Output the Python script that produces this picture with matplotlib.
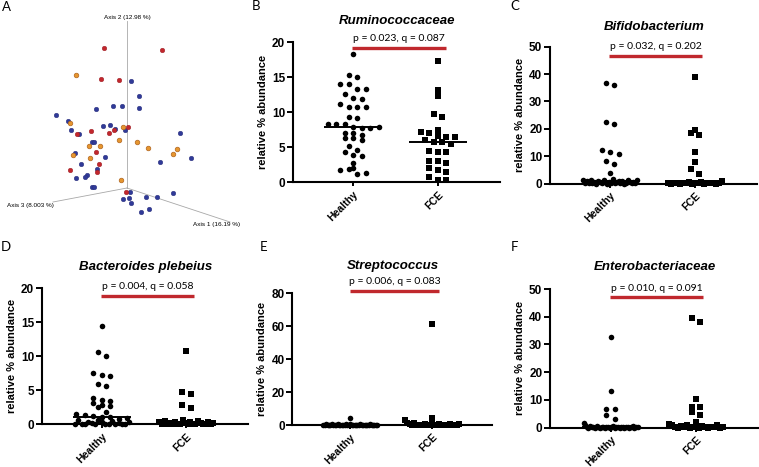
import matplotlib
matplotlib.use('Agg')
import matplotlib.pyplot as plt
import numpy as np

# figure size in pixels (dpi 100)
W, H = 759, 467

groups = ["Healthy", "FCE"]

# ---- panel A: PCoA points as projected in the 3D view (pixel space of panel A)
red_x = [104, 162, 100.7, 119.3, 90.7, 109, 114.3, 127.7, 77.3, 96.3, 98.7, 97.3, 70, 126]
red_y = [47.7, 50, 79, 80, 131, 133, 130, 126.7, 134, 152.3, 163.7, 171.7, 170.3, 192]
orange_x = [75.7, 70, 122.7, 100.3, 89, 119, 137, 147.7, 177, 173.3, 73.3, 89.7, 121.3]
orange_y = [75.3, 123.3, 127.3, 145.7, 146, 139.7, 142.3, 148.3, 149, 153.7, 154.7, 158, 180.3]
blue_x = [131, 139.3, 139.3, 96, 113.3, 122, 56.3, 68.3, 70.7, 78.7, 102.7, 110, 115, 125,
          92, 94.3, 75, 104.7, 81.3, 97, 87.3, 85.3, 76, 92.3, 93.7, 180.3, 191, 160,
          130, 123, 129.3, 146, 157.3, 173, 131, 148.7, 141.3]
blue_y = [81, 96.3, 108, 109.3, 106, 106.3, 114.7, 120.7, 130.3, 133.7, 126, 125, 129, 129.7,
          142.3, 142.3, 152.7, 157.3, 163.7, 169, 175, 176.7, 177.7, 187.3, 187.3, 133, 158, 161.7,
          192, 198.7, 198, 197.3, 197, 193.3, 203, 208.7, 212]
axis_names = ["Axis 1 (16.19 %)", "Axis 2 (12.98 %)", "Axis 3 (8.003 %)"]

# ---- panels B-F: relative % abundance
rumino_healthy = [18.3, 15.4, 15.0, 14.1, 14.0, 13.4, 13.4, 12.6, 12.1, 11.9, 11.2, 10.8, 10.7,
                  10.7, 9.3, 9.2, 8.3, 8.3, 8.3, 7.9, 7.8, 7.7, 7.0, 7.1, 6.8, 6.4, 6.4, 6.0,
                  5.2, 4.6, 4.4, 3.9, 3.8, 2.8, 2.0, 1.8, 1.9, 1.2, 1.3, 7.9]
rumino_fce = [17.3, 13.2, 12.4, 9.7, 9.4, 7.5, 7.2, 7.1, 6.6, 6.5, 6.5, 6.1, 5.8, 5.7, 5.5,
              4.5, 4.4, 4.4, 3.0, 3.0, 2.7, 2.1, 1.7, 1.5, 0.7, 0.3, 0.3]

bifido_healthy = [36.6, 36.2, 22.4, 21.9, 12.3, 11.6, 10.9, 8.4, 7.2, 4.0,
                  1.2, 0.4, 0.9, 0.1, 1.5, 0.3, 0.7, 0.0, 1.1, 0.5, 0.2, 1.3, 0.6, 0.0, 0.8,
                  0.3, 1.6, 0.1, 0.5, 0.9, 0.2, 1.0, 0.0, 0.4, 1.4, 0.6, 0.1, 0.8, 0.3, 1.2]
bifido_fce = [38.8, 19.7, 18.4, 17.8, 11.7, 7.9, 5.3, 3.6,
              0.2, 0.0, 0.4, 0.1, 0.0, 0.3, 0.1, 0.5, 0.0, 0.2, 0.1, 0.6, 0.0, 0.3, 0.1,
              0.2, 0.0, 0.4, 1.0]

plebeius_healthy = [14.5, 10.7, 10.0, 7.5, 7.3, 7.1, 6.0, 5.6, 3.8, 3.6, 3.5, 3.2, 2.9, 2.7,
                    2.5, 1.8, 1.5, 1.3, 1.2, 1.1, 1.1, 0.8, 0.0, 0.6, 0.1, 0.0, 0.4, 0.2,
                    0.0, 0.7, 0.3, 0.0, 0.1, 0.5, 0.0, 0.2, 0.9, 0.1, 0.0, 0.3]
plebeius_fce = [10.8, 4.7, 4.4, 2.8, 2.4,
                0.3, 0.0, 0.5, 0.1, 0.2, 0.0, 0.4, 0.1, 0.0, 0.6, 0.2, 0.0, 0.3, 0.1,
                0.0, 0.5, 0.2, 0.0, 0.1, 0.3, 0.0, 0.2]

strep_healthy = [4.0, 0.2, 0.0, 0.5, 0.1, 0.3, 0.0, 0.4, 0.1, 0.0, 0.2, 0.6, 0.0, 0.3, 0.1,
                 0.0, 0.2, 0.4, 0.0, 0.1, 0.5, 0.0, 0.2, 0.3, 0.0, 0.1, 0.0, 0.4, 0.2, 0.0,
                 0.1, 0.3, 0.0, 0.2, 0.5, 0.0, 0.1, 0.3, 0.0, 0.2]
strep_fce = [61.5, 4.0, 2.8, 1.5, 0.5, 0.0, 1.0, 0.2, 0.0, 0.3, 0.1, 0.6, 0.0, 0.2, 0.4,
             0.0, 0.1, 0.8, 0.0, 0.3, 0.2, 0.0, 0.5, 0.1, 0.0, 0.3, 0.9]

entero_healthy = [32.6, 13.3, 6.8, 6.6, 4.5, 3.0, 1.8, 1.0,
                  0.3, 0.0, 0.5, 0.1, 0.2, 0.0, 0.6, 0.1, 0.0, 0.3, 0.2, 0.0, 0.4, 0.1,
                  0.0, 0.2, 0.5, 0.0, 0.1, 0.3, 0.0, 0.2, 0.4, 0.0, 0.1, 0.3, 0.0, 0.2,
                  0.6, 0.0, 0.1, 0.2]
entero_fce = [39.5, 38.0, 10.3, 7.6, 7.3, 5.8, 4.4, 2.2, 1.2, 1.0,
              0.3, 0.0, 0.5, 0.1, 0.8, 0.0, 0.2, 0.4, 0.0, 0.6, 0.1, 0.0, 0.3, 0.2, 0.9,
              0.0, 0.4]

plt.rcParams['font.family'] = ['Liberation Sans', 'DejaVu Sans']

fig = plt.figure(figsize=(W / 100, H / 100), dpi=100)
RED = '#c0282d'
CALIBRI_LIKE = ['Lato', 'DejaVu Sans']


def ftext(x, y, s, **kw):
    """ put a text at a pixel position of the figure """
    fig.text(x / W, 1 - y / H, s, **kw)


def swarm_x(ax, values, center, row_px=5.0, step_px=8.5, max_px=54.0):
    """ spread the points of one column sideways, GraphPad style (rows of close values) """
    vals = np.asarray(values, float)
    disp = ax.transData.transform(np.column_stack([np.full(len(vals), center), vals]))
    py = disp[:, 1]
    px0 = disp[0, 0]
    order = np.argsort(py, kind='stable')
    xs = np.zeros(len(vals))
    i = 0
    while i < len(order):
        j = i
        while j < len(order) and py[order[j]] - py[order[i]] < row_px:
            j += 1
        row = sorted(order[i:j])
        n = len(row)
        sp = step_px if n < 2 else min(step_px, max_px / (n - 1))
        for k, idx in enumerate(row):
            xs[idx] = px0 + (k - (n - 1) / 2) * sp
        i = j
    return ax.transData.inverted().transform(np.column_stack([xs, py]))[:, 0]


def dot_panel(box, ymax, ystep, healthy, fce, title, ptext, bar_y, title_y):
    """ one column-scatter panel; box = (left, right, top, zero-line) in pixels """
    L, R, T, B = box
    ax = fig.add_axes([L / W, 1 - B / H, (R - L) / W, (B - T) / H])
    ax.set_xlim(0.29, 2.73)
    ax.set_ylim(0, ymax)
    for s in ['top', 'right']:
        ax.spines[s].set_visible(False)
    for s in ['left', 'bottom']:
        ax.spines[s].set_linewidth(1.5)
    ax.set_yticks(np.arange(0, ymax + 1, ystep))
    ax.tick_params(axis='y', length=4, width=1.4, labelsize=8.5, pad=1.5)
    ax.tick_params(axis='x', length=3, width=1.4, labelsize=7.5, pad=2)
    ax.set_xticks([1, 2])
    ax.set_xticklabels(groups, rotation=45, ha='right', rotation_mode='anchor')
    for lbl in ax.get_xticklabels() + ax.get_yticklabels():
        lbl.set_fontweight('bold')
    ax.set_ylabel('relative % abundance', fontsize=8, fontweight='bold', labelpad=3)

    for pos, vals, mk, sz in [(1, healthy, 'o', 16), (2, fce, 's', 14)]:
        xs = swarm_x(ax, vals, pos)
        ax.scatter(xs, vals, s=sz, marker=mk, color='black', linewidths=0,
                   clip_on=False, zorder=3)
        med = np.median(vals)
        ax.plot([pos - 0.34, pos + 0.34], [med, med], color='black', lw=1.4,
                zorder=4, clip_on=False, solid_capstyle='butt')

    # significance bar with the p / q values
    ax.plot([0.99, 2.09], [bar_y, bar_y], color=RED, lw=2.4, clip_on=False,
            solid_capstyle='butt')
    ax.annotate(ptext, xy=(1.54, bar_y), xytext=(0, 6.5), textcoords='offset points',
                ha='center', va='center', fontsize=7.5, family=CALIBRI_LIKE,
                annotation_clip=False)
    ftext((L + R) / 2 + 1, title_y, title, ha='center', va='center', fontsize=9.5,
          style='italic', fontweight='bold')
    return ax


# ---- panel A
axA = fig.add_axes([0, 1 - 230 / H, 250 / W, 230 / H])
axA.set_xlim(0, 250)
axA.set_ylim(230, 0)
axA.axis('off')
origin = (127, 188)
for end in [(127, 21), (53, 202), (230, 222)]:
    axA.plot([origin[0], end[0]], [origin[1], end[1]], color='#a8a8a8', lw=0.6, zorder=1)
axA.text(127, 18, axis_names[1], ha='center', va='center', fontsize=4.6)
axA.text(30, 205, axis_names[2], ha='center', va='center', fontsize=4.6)
axA.text(217, 225, axis_names[0], ha='center', va='center', fontsize=4.6)
axA.scatter(blue_x, blue_y, s=11, color='#303a98', edgecolors='#262c78', linewidths=0.3, zorder=3)
axA.scatter(red_x, red_y, s=11, color='#c2272d', edgecolors='#951c22', linewidths=0.3, zorder=3)
axA.scatter(orange_x, orange_y, s=11, color='#e6962f', edgecolors='#b0641e', linewidths=0.5, zorder=3)

# ---- panels B-F
dot_panel((292.7, 500, 42.3, 182.3), 20, 5, rumino_healthy, rumino_fce,
          'Ruminococcaceae', 'p = 0.023, q = 0.087', 19.2, 20.7)
dot_panel((550, 756.7, 46.7, 183.7), 50, 10, bifido_healthy, bifido_fce,
          'Bifidobacterium', 'p = 0.032, q = 0.202', 46.7, 26.7)
dot_panel((41.7, 248.3, 288.3, 424.3), 20, 5, plebeius_healthy, plebeius_fce,
          'Bacteroides plebeius', 'p = 0.004, q = 0.058', 18.9, 266.7)
dot_panel((292.3, 491.7, 293.3, 425), 80, 20, strep_healthy, strep_fce,
          'Streptococcus', 'p = 0.006, q = 0.083', 81.6, 266)
dot_panel((550, 758, 289, 427.7), 50, 10, entero_healthy, entero_fce,
          'Enterobacteriaceae', 'p = 0.010, q = 0.091', 47.0, 266.7)

# panel letters
for letter, x, y in [('A', 6, 7), ('B', 256, 6), ('C', 515, 6),
                     ('D', 6, 247), ('E', 264, 247), ('F', 514, 247)]:
    ftext(x, y, letter, ha='center', va='center', fontsize=9.5, family=CALIBRI_LIKE)

plt.savefig('out.png', dpi=100)
